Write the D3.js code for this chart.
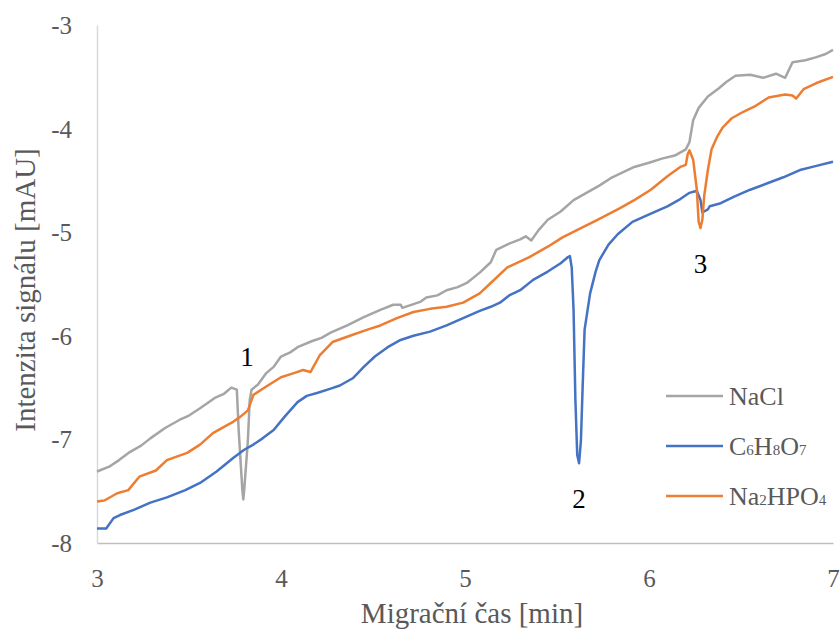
<!DOCTYPE html>
<html>
<head>
<meta charset="utf-8">
<script src="https://cdn.jsdelivr.net/npm/d3@7"></script>
<style>
  html, body { margin: 0; padding: 0; background: #fff; }
  svg { display: block; }
</style>
</head>
<body>
<svg id="chart" width="840" height="630" font-family="'Liberation Serif', 'Times New Roman', serif"></svg>
<script>
// Electropherogram traces: migration time [min] vs. signal [mAU]
const naclTime = [3.00, 3.07, 3.12, 3.18, 3.24, 3.29, 3.37, 3.45, 3.50, 3.56, 3.64, 3.69, 3.73, 3.76, 3.77, 3.79, 3.795, 3.80, 3.82, 3.83, 3.84, 3.875, 3.92, 3.96, 4.00, 4.05, 4.09, 4.17, 4.22, 4.27, 4.36, 4.45, 4.54, 4.61, 4.65, 4.66, 4.76, 4.79, 4.85, 4.90, 4.96, 5.01, 5.08, 5.14, 5.17, 5.24, 5.30, 5.33, 5.36, 5.40, 5.45, 5.52, 5.59, 5.66, 5.73, 5.80, 5.86, 5.92, 6.00, 6.07, 6.14, 6.20, 6.22, 6.24, 6.27, 6.32, 6.38, 6.42, 6.47, 6.55, 6.62, 6.69, 6.74, 6.78, 6.85, 6.91, 6.96, 7.00];
const naclSignal = [-7.31, -7.26, -7.20, -7.12, -7.06, -6.99, -6.89, -6.81, -6.77, -6.70, -6.60, -6.56, -6.50, -6.52, -6.91, -7.49, -7.58, -7.49, -7.01, -6.62, -6.52, -6.47, -6.36, -6.30, -6.20, -6.16, -6.11, -6.05, -6.02, -5.97, -5.90, -5.82, -5.75, -5.70, -5.70, -5.73, -5.67, -5.63, -5.61, -5.56, -5.53, -5.49, -5.39, -5.29, -5.17, -5.11, -5.07, -5.04, -5.08, -4.98, -4.88, -4.80, -4.69, -4.62, -4.55, -4.47, -4.42, -4.37, -4.33, -4.29, -4.26, -4.20, -4.13, -3.92, -3.80, -3.69, -3.61, -3.55, -3.49, -3.48, -3.51, -3.47, -3.51, -3.36, -3.34, -3.31, -3.28, -3.24];

const citricTime = [3.00, 3.05, 3.09, 3.125, 3.20, 3.29, 3.38, 3.48, 3.56, 3.65, 3.74, 3.80, 3.85, 3.90, 3.96, 4.02, 4.09, 4.14, 4.20, 4.27, 4.32, 4.39, 4.45, 4.51, 4.58, 4.65, 4.72, 4.81, 4.90, 4.99, 5.08, 5.14, 5.19, 5.24, 5.30, 5.37, 5.45, 5.52, 5.56, 5.57, 5.58, 5.59, 5.60, 5.61, 5.62, 5.63, 5.64, 5.65, 5.68, 5.71, 5.73, 5.78, 5.83, 5.91, 6.01, 6.10, 6.17, 6.22, 6.26, 6.28, 6.29, 6.32, 6.33, 6.39, 6.46, 6.55, 6.64, 6.73, 6.82, 6.91, 7.00];
const citricSignal = [-7.86, -7.86, -7.76, -7.73, -7.68, -7.61, -7.56, -7.49, -7.42, -7.31, -7.18, -7.10, -7.05, -6.99, -6.91, -6.78, -6.64, -6.58, -6.55, -6.51, -6.48, -6.41, -6.30, -6.20, -6.11, -6.04, -6.00, -5.96, -5.90, -5.83, -5.76, -5.72, -5.68, -5.61, -5.56, -5.46, -5.38, -5.30, -5.24, -5.23, -5.34, -5.75, -6.62, -7.15, -7.23, -7.01, -6.46, -5.94, -5.59, -5.38, -5.27, -5.12, -5.02, -4.90, -4.82, -4.75, -4.68, -4.62, -4.60, -4.69, -4.81, -4.78, -4.75, -4.72, -4.66, -4.59, -4.53, -4.47, -4.40, -4.36, -4.32];

const phosphateTime = [3.00, 3.04, 3.11, 3.17, 3.23, 3.32, 3.38, 3.49, 3.56, 3.63, 3.70, 3.74, 3.78, 3.82, 3.85, 3.92, 4.00, 4.07, 4.12, 4.16, 4.21, 4.28, 4.39, 4.47, 4.54, 4.63, 4.72, 4.81, 4.90, 4.99, 5.08, 5.14, 5.23, 5.35, 5.45, 5.53, 5.63, 5.72, 5.84, 5.92, 6.01, 6.10, 6.17, 6.20, 6.21, 6.22, 6.24, 6.26, 6.27, 6.28, 6.29, 6.30, 6.32, 6.34, 6.37, 6.40, 6.45, 6.51, 6.58, 6.65, 6.74, 6.78, 6.80, 6.84, 6.91, 7.00];
const phosphateSignal = [-7.60, -7.59, -7.52, -7.49, -7.36, -7.30, -7.20, -7.13, -7.05, -6.94, -6.87, -6.83, -6.78, -6.72, -6.57, -6.49, -6.40, -6.36, -6.33, -6.35, -6.19, -6.06, -5.99, -5.94, -5.90, -5.83, -5.77, -5.74, -5.72, -5.68, -5.59, -5.49, -5.34, -5.24, -5.14, -5.05, -4.96, -4.88, -4.77, -4.69, -4.59, -4.46, -4.37, -4.35, -4.25, -4.21, -4.30, -4.59, -4.90, -4.96, -4.88, -4.65, -4.40, -4.20, -4.08, -3.99, -3.90, -3.84, -3.78, -3.70, -3.67, -3.68, -3.71, -3.62, -3.56, -3.50];

const seriesNames = ["NaCl", "C6H8O7", "Na2HPO4"];
const seriesColors = ["#a5a5a5", "#4472c4", "#ed7d31"];

const xTicks = [3, 4, 5, 6, 7];
const yTicks = [-8, -7, -6, -5, -4, -3];

// Numbered peaks: label, migration time, signal level of the label baseline
const peakLabels = ["1", "2", "3"];
const peakTimes = [3.815, 5.62, 6.28];
const peakLevels = [-6.29, -7.66, -5.39];

const FONT = "'Liberation Serif', 'Times New Roman', serif";

const series = [
  { name: seriesNames[0], color: seriesColors[0], t: naclTime, v: naclSignal },
  { name: seriesNames[1], color: seriesColors[1], t: citricTime, v: citricSignal },
  { name: seriesNames[2], color: seriesColors[2], t: phosphateTime, v: phosphateSignal }
];

const svg = d3.select("#chart");
const plot = { left: 97, right: 833, top: 25, bottom: 543 };

const x = d3.scaleLinear().domain([3, 7]).range([plot.left, plot.right]);
const y = d3.scaleLinear().domain([-8, -3]).range([plot.bottom, plot.top]);

// Axes (no tick marks, only labels)
const xAxis = svg.append("g")
  .attr("transform", `translate(0,${plot.bottom})`)
  .call(d3.axisBottom(x).tickValues(xTicks).tickSize(0).tickPadding(0).tickFormat(d3.format("d")))
  .attr("font-family", FONT);
xAxis.select(".domain").attr("stroke", "#bfbfbf").attr("stroke-width", 1.5);
xAxis.selectAll("text")
  .attr("y", 44).attr("dy", null)
  .attr("fill", "#595959").attr("font-size", 25);

const yAxis = svg.append("g")
  .attr("transform", `translate(${plot.left},0)`)
  .call(d3.axisLeft(y).tickValues(yTicks).tickSize(0).tickPadding(0).tickFormat(d => d3.format("d")(d).replace("−", "-")))
  .attr("font-family", FONT);
yAxis.select(".domain").attr("stroke", "#d9d9d9").attr("stroke-width", 1.5);
yAxis.selectAll("text")
  .attr("x", -25).attr("dy", "0.34em")
  .attr("fill", "#595959").attr("font-size", 25);

// Traces
const line = d3.line().x(d => x(d[0])).y(d => y(d[1]));
svg.append("g").selectAll("path")
  .data(series)
  .join("path")
  .attr("d", s => line(d3.zip(s.t, s.v)))
  .attr("fill", "none")
  .attr("stroke", s => s.color)
  .attr("stroke-width", 2.5)
  .attr("stroke-linejoin", "round");

// Peak numbers
svg.append("g").selectAll("text")
  .data(peakLabels)
  .join("text")
  .attr("x", (d, i) => x(peakTimes[i]))
  .attr("y", (d, i) => y(peakLevels[i]))
  .attr("text-anchor", "middle")
  .attr("font-family", FONT)
  .attr("font-size", 27)
  .attr("fill", "#000")
  .text(d => d);

// Axis titles
svg.append("text")
  .attr("x", 472).attr("y", 623)
  .attr("text-anchor", "middle")
  .attr("font-family", FONT)
  .attr("font-size", 29)
  .attr("fill", "#595959")
  .text("Migrační čas [min]");

svg.append("text")
  .attr("transform", "translate(35,290) rotate(-90)")
  .attr("text-anchor", "middle")
  .attr("font-family", FONT)
  .attr("font-size", 29)
  .attr("fill", "#595959")
  .text("Intenzita signálu [mAU]");

// Legend with chemical-formula subscripts
const legend = svg.append("g").attr("transform", "translate(666,396)");
const rows = legend.selectAll("g")
  .data(series)
  .join("g")
  .attr("transform", (d, i) => `translate(0,${i * 50})`);
rows.append("line")
  .attr("x1", 0).attr("x2", 57)
  .attr("stroke", d => d.color)
  .attr("stroke-width", 2.5);
rows.append("text")
  .attr("x", 63).attr("y", 9)
  .attr("font-family", FONT)
  .attr("font-size", 26)
  .attr("fill", "#595959")
  .each(function (d) {
    const t = d3.select(this);
    const parts = d.name.match(/[A-Za-z]+|\d+/g);
    parts.forEach(p => {
      if (/^\d+$/.test(p)) {
        t.append("tspan").attr("font-size", 15).text(p);
      } else {
        t.append("tspan").text(p);
      }
    });
  });
</script>
</body>
</html>
